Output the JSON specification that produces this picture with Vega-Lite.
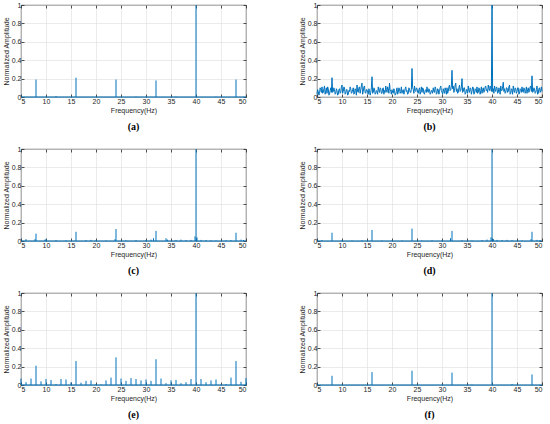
{
"$schema": "https://vega.github.io/schema/vega-lite/v6.json",
"padding": {"left": 1, "top": 0, "right": 4, "bottom": 2},
"background": "white",
"config": {
 "view": {"stroke": "#262626", "strokeWidth": 0.8},
 "axis": {"domain": false, "labelFont": "Liberation Sans", "labelFontSize": 7, "labelColor": "#262626", "titleFont": "Liberation Sans", "titleFontSize": 7, "titleFontWeight": "normal", "titleColor": "#262626", "tickColor": "#262626", "gridColor": "#dedede", "gridWidth": 0.6, "tickWidth": 0.8},
 "title": {"font": "Liberation Serif", "fontSize": 10, "fontWeight": "bold", "color": "#000", "orient": "bottom", "offset": 9}
},
"datasets": {
 "s": [
  {"p":"a","f":8,"a":0.19},{"p":"a","f":12,"a":0.01},{"p":"a","f":16,"a":0.21},{"p":"a","f":24,"a":0.19},{"p":"a","f":28,"a":0.005},{"p":"a","f":32,"a":0.18},{"p":"a","f":36,"a":0.005},{"p":"a","f":40,"a":1},{"p":"a","f":44,"a":0.005},{"p":"a","f":48,"a":0.19},
  {"p":"c","f":6,"a":0.02},{"p":"c","f":7.8,"a":0.02},{"p":"c","f":8,"a":0.08},{"p":"c","f":9.8,"a":0.015},{"p":"c","f":10,"a":0.02},{"p":"c","f":12,"a":0.01},{"p":"c","f":14,"a":0.008},{"p":"c","f":16,"a":0.1},{"p":"c","f":18,"a":0.01},{"p":"c","f":19,"a":0.012},{"p":"c","f":20,"a":0.008},{"p":"c","f":22,"a":0.006},{"p":"c","f":23.8,"a":0.02},{"p":"c","f":24,"a":0.13},{"p":"c","f":26,"a":0.008},{"p":"c","f":28,"a":0.01},{"p":"c","f":30,"a":0.01},{"p":"c","f":31,"a":0.015},{"p":"c","f":31.5,"a":0.03},{"p":"c","f":32,"a":0.11},{"p":"c","f":34,"a":0.03},{"p":"c","f":34.3,"a":0.015},{"p":"c","f":36,"a":0.01},{"p":"c","f":37,"a":0.015},{"p":"c","f":38,"a":0.01},{"p":"c","f":39,"a":0.012},{"p":"c","f":39.8,"a":0.05},{"p":"c","f":40,"a":1},{"p":"c","f":40.2,"a":0.04},{"p":"c","f":41,"a":0.012},{"p":"c","f":42,"a":0.01},{"p":"c","f":43,"a":0.008},{"p":"c","f":44,"a":0.006},{"p":"c","f":46,"a":0.008},{"p":"c","f":47,"a":0.01},{"p":"c","f":48,"a":0.09},{"p":"c","f":49,"a":0.015},{"p":"c","f":49.5,"a":0.01},
  {"p":"d","f":6,"a":0.01},{"p":"d","f":8,"a":0.09},{"p":"d","f":10,"a":0.008},{"p":"d","f":12,"a":0.006},{"p":"d","f":14,"a":0.008},{"p":"d","f":16,"a":0.12},{"p":"d","f":18,"a":0.006},{"p":"d","f":20,"a":0.005},{"p":"d","f":22,"a":0.006},{"p":"d","f":24,"a":0.135},{"p":"d","f":26,"a":0.006},{"p":"d","f":28,"a":0.008},{"p":"d","f":30,"a":0.006},{"p":"d","f":31.7,"a":0.03},{"p":"d","f":32,"a":0.11},{"p":"d","f":34,"a":0.008},{"p":"d","f":36,"a":0.006},{"p":"d","f":38,"a":0.01},{"p":"d","f":39,"a":0.015},{"p":"d","f":39.8,"a":0.04},{"p":"d","f":40,"a":1},{"p":"d","f":40.3,"a":0.02},{"p":"d","f":41,"a":0.012},{"p":"d","f":42,"a":0.01},{"p":"d","f":43,"a":0.012},{"p":"d","f":44,"a":0.008},{"p":"d","f":46,"a":0.006},{"p":"d","f":47.8,"a":0.02},{"p":"d","f":48,"a":0.1},{"p":"d","f":49,"a":0.012},{"p":"d","f":49.6,"a":0.008},
  {"p":"e","f":5,"a":0.07},{"p":"e","f":6,"a":0.03},{"p":"e","f":7,"a":0.07},{"p":"e","f":8,"a":0.21},{"p":"e","f":9,"a":0.04},{"p":"e","f":10,"a":0.065},{"p":"e","f":11,"a":0.055},{"p":"e","f":12,"a":0.01},{"p":"e","f":13,"a":0.065},{"p":"e","f":14,"a":0.06},{"p":"e","f":15,"a":0.03},{"p":"e","f":16,"a":0.26},{"p":"e","f":17,"a":0.025},{"p":"e","f":18,"a":0.045},{"p":"e","f":19,"a":0.05},{"p":"e","f":20,"a":0.01},{"p":"e","f":21,"a":0.005},{"p":"e","f":22,"a":0.05},{"p":"e","f":23,"a":0.08},{"p":"e","f":24,"a":0.3},{"p":"e","f":25,"a":0.07},{"p":"e","f":26,"a":0.045},{"p":"e","f":27,"a":0.075},{"p":"e","f":28,"a":0.065},{"p":"e","f":29,"a":0.05},{"p":"e","f":30,"a":0.06},{"p":"e","f":31,"a":0.045},{"p":"e","f":32,"a":0.28},{"p":"e","f":33,"a":0.07},{"p":"e","f":34,"a":0.02},{"p":"e","f":35,"a":0.05},{"p":"e","f":36,"a":0.055},{"p":"e","f":37,"a":0.02},{"p":"e","f":38,"a":0.03},{"p":"e","f":39,"a":0.065},{"p":"e","f":40,"a":1},{"p":"e","f":41,"a":0.065},{"p":"e","f":42,"a":0.03},{"p":"e","f":43,"a":0.05},{"p":"e","f":44,"a":0.06},{"p":"e","f":45,"a":0.005},{"p":"e","f":46,"a":0.01},{"p":"e","f":47,"a":0.08},{"p":"e","f":48,"a":0.26},{"p":"e","f":49,"a":0.035},{"p":"e","f":50,"a":0.075},
  {"p":"f","f":8,"a":0.1},{"p":"f","f":16,"a":0.14},{"p":"f","f":24,"a":0.155},{"p":"f","f":32,"a":0.135},{"p":"f","f":36,"a":0.005},{"p":"f","f":40,"a":1},{"p":"f","f":44,"a":0.01},{"p":"f","f":48,"a":0.115}
 ],
 "n": [
  {"f":5,"a":0.03},{"f":5.125,"a":0.08},{"f":5.25,"a":0.06},{"f":5.375,"a":0.02},{"f":5.5,"a":0.04},{"f":5.625,"a":0.1},{"f":5.75,"a":0.08},{"f":5.875,"a":0.05},
  {"f":6,"a":0.11},{"f":6.125,"a":0.04},{"f":6.25,"a":0.05},{"f":6.375,"a":0.09},{"f":6.5,"a":0.12},{"f":6.625,"a":0.03},{"f":6.75,"a":0.07},{"f":6.875,"a":0.1},
  {"f":7,"a":0.04},{"f":7.125,"a":0.11},{"f":7.25,"a":0.09},{"f":7.375,"a":0.02},{"f":7.5,"a":0.03},{"f":7.625,"a":0.07},{"f":7.75,"a":0.1},{"f":7.875,"a":0.05},
  {"f":8,"a":0.21},{"f":8.125,"a":0.05},{"f":8.25,"a":0.06},{"f":8.375,"a":0.1},{"f":8.5,"a":0.08},{"f":8.625,"a":0.03},{"f":8.75,"a":0.04},{"f":8.875,"a":0.09},
  {"f":9,"a":0.07},{"f":9.125,"a":0.02},{"f":9.25,"a":0.03},{"f":9.375,"a":0.08},{"f":9.5,"a":0.09},{"f":9.625,"a":0.04},{"f":9.75,"a":0.05},{"f":9.875,"a":0.11},
  {"f":10,"a":0.13},{"f":10.125,"a":0.04},{"f":10.25,"a":0.06},{"f":10.375,"a":0.11},{"f":10.5,"a":0.1},{"f":10.625,"a":0.03},{"f":10.75,"a":0.04},{"f":10.875,"a":0.08},
  {"f":11,"a":0.08},{"f":11.125,"a":0.02},{"f":11.25,"a":0.03},{"f":11.375,"a":0.07},{"f":11.5,"a":0.06},{"f":11.625,"a":0.11},{"f":11.75,"a":0.09},{"f":11.875,"a":0.04},
  {"f":12,"a":0.05},{"f":12.125,"a":0.08},{"f":12.25,"a":0.1},{"f":12.375,"a":0.03},{"f":12.5,"a":0.04},{"f":12.625,"a":0.09},{"f":12.75,"a":0.07},{"f":12.875,"a":0.02},
  {"f":13,"a":0.13},{"f":13.125,"a":0.06},{"f":13.25,"a":0.05},{"f":13.375,"a":0.1},{"f":13.5,"a":0.11},{"f":13.625,"a":0.04},{"f":13.75,"a":0.08},{"f":13.875,"a":0.12},
  {"f":14,"a":0.15},{"f":14.125,"a":0.03},{"f":14.25,"a":0.06},{"f":14.375,"a":0.11},{"f":14.5,"a":0.12},{"f":14.625,"a":0.05},{"f":14.75,"a":0.04},{"f":14.875,"a":0.08},
  {"f":15,"a":0.08},{"f":15.125,"a":0.05},{"f":15.25,"a":0.03},{"f":15.375,"a":0.09},{"f":15.5,"a":0.07},{"f":15.625,"a":0.02},{"f":15.75,"a":0.05},{"f":15.875,"a":0.1},
  {"f":16,"a":0.22},{"f":16.125,"a":0.04},{"f":16.25,"a":0.05},{"f":16.375,"a":0.1},{"f":16.5,"a":0.09},{"f":16.625,"a":0.03},{"f":16.75,"a":0.04},{"f":16.875,"a":0.07},
  {"f":17,"a":0.06},{"f":17.125,"a":0.03},{"f":17.25,"a":0.11},{"f":17.375,"a":0.07},{"f":17.5,"a":0.05},{"f":17.625,"a":0.1},{"f":17.75,"a":0.09},{"f":17.875,"a":0.04},
  {"f":18,"a":0.04},{"f":18.125,"a":0.09},{"f":18.25,"a":0.1},{"f":18.375,"a":0.03},{"f":18.5,"a":0.07},{"f":18.625,"a":0.05},{"f":18.75,"a":0.12},{"f":18.875,"a":0.08},
  {"f":19,"a":0.05},{"f":19.125,"a":0.11},{"f":19.25,"a":0.09},{"f":19.375,"a":0.04},{"f":19.5,"a":0.15},{"f":19.625,"a":0.08},{"f":19.75,"a":0.06},{"f":19.875,"a":0.03},
  {"f":20,"a":0.08},{"f":20.125,"a":0.05},{"f":20.25,"a":0.04},{"f":20.375,"a":0.09},{"f":20.5,"a":0.07},{"f":20.625,"a":0.02},{"f":20.75,"a":0.03},{"f":20.875,"a":0.06},
  {"f":21,"a":0.1},{"f":21.125,"a":0.03},{"f":21.25,"a":0.05},{"f":21.375,"a":0.1},{"f":21.5,"a":0.09},{"f":21.625,"a":0.04},{"f":21.75,"a":0.06},{"f":21.875,"a":0.11},
  {"f":22,"a":0.04},{"f":22.125,"a":0.07},{"f":22.25,"a":0.08},{"f":22.375,"a":0.03},{"f":22.5,"a":0.05},{"f":22.625,"a":0.09},{"f":22.75,"a":0.11},{"f":22.875,"a":0.06},
  {"f":23,"a":0.07},{"f":23.125,"a":0.03},{"f":23.25,"a":0.04},{"f":23.375,"a":0.1},{"f":23.5,"a":0.09},{"f":23.625,"a":0.05},{"f":23.75,"a":0.05},{"f":23.875,"a":0.08},
  {"f":24,"a":0.31},{"f":24.125,"a":0.1},{"f":24.25,"a":0.08},{"f":24.375,"a":0.04},{"f":24.5,"a":0.12},{"f":24.625,"a":0.07},{"f":24.75,"a":0.06},{"f":24.875,"a":0.1},
  {"f":25,"a":0.09},{"f":25.125,"a":0.05},{"f":25.25,"a":0.04},{"f":25.375,"a":0.08},{"f":25.5,"a":0.1},{"f":25.625,"a":0.03},{"f":25.75,"a":0.06},{"f":25.875,"a":0.11},
  {"f":26,"a":0.05},{"f":26.125,"a":0.1},{"f":26.25,"a":0.09},{"f":26.375,"a":0.04},{"f":26.5,"a":0.03},{"f":26.625,"a":0.07},{"f":26.75,"a":0.08},{"f":26.875,"a":0.05},
  {"f":27,"a":0.11},{"f":27.125,"a":0.06},{"f":27.25,"a":0.05},{"f":27.375,"a":0.09},{"f":27.5,"a":0.08},{"f":27.625,"a":0.03},{"f":27.75,"a":0.04},{"f":27.875,"a":0.07},
  {"f":28,"a":0.07},{"f":28.125,"a":0.04},{"f":28.25,"a":0.1},{"f":28.375,"a":0.06},{"f":28.5,"a":0.05},{"f":28.625,"a":0.11},{"f":28.75,"a":0.09},{"f":28.875,"a":0.03},
  {"f":29,"a":0.04},{"f":29.125,"a":0.09},{"f":29.25,"a":0.08},{"f":29.375,"a":0.03},{"f":29.5,"a":0.06},{"f":29.625,"a":0.1},{"f":29.75,"a":0.12},{"f":29.875,"a":0.07},
  {"f":30,"a":0.05},{"f":30.125,"a":0.03},{"f":30.25,"a":0.09},{"f":30.375,"a":0.06},{"f":30.5,"a":0.04},{"f":30.625,"a":0.1},{"f":30.75,"a":0.07},{"f":30.875,"a":0.03},
  {"f":31,"a":0.1},{"f":31.125,"a":0.04},{"f":31.25,"a":0.06},{"f":31.375,"a":0.11},{"f":31.5,"a":0.13},{"f":31.625,"a":0.07},{"f":31.75,"a":0.08},{"f":31.875,"a":0.12},
  {"f":32,"a":0.29},{"f":32.125,"a":0.09},{"f":32.25,"a":0.12},{"f":32.375,"a":0.05},{"f":32.5,"a":0.07},{"f":32.625,"a":0.13},{"f":32.75,"a":0.15},{"f":32.875,"a":0.06},
  {"f":33,"a":0.09},{"f":33.125,"a":0.04},{"f":33.25,"a":0.05},{"f":33.375,"a":0.1},{"f":33.5,"a":0.13},{"f":33.625,"a":0.06},{"f":33.75,"a":0.07},{"f":33.875,"a":0.11},
  {"f":34,"a":0.2},{"f":34.125,"a":0.05},{"f":34.25,"a":0.06},{"f":34.375,"a":0.1},{"f":34.5,"a":0.1},{"f":34.625,"a":0.03},{"f":34.75,"a":0.04},{"f":34.875,"a":0.08},
  {"f":35,"a":0.08},{"f":35.125,"a":0.04},{"f":35.25,"a":0.12},{"f":35.375,"a":0.07},{"f":35.5,"a":0.05},{"f":35.625,"a":0.1},{"f":35.75,"a":0.09},{"f":35.875,"a":0.03},
  {"f":36,"a":0.06},{"f":36.125,"a":0.11},{"f":36.25,"a":0.1},{"f":36.375,"a":0.03},{"f":36.5,"a":0.04},{"f":36.625,"a":0.09},{"f":36.75,"a":0.08},{"f":36.875,"a":0.05},
  {"f":37,"a":0.11},{"f":37.125,"a":0.04},{"f":37.25,"a":0.05},{"f":37.375,"a":0.1},{"f":37.5,"a":0.09},{"f":37.625,"a":0.03},{"f":37.75,"a":0.07},{"f":37.875,"a":0.11},
  {"f":38,"a":0.04},{"f":38.125,"a":0.08},{"f":38.25,"a":0.1},{"f":38.375,"a":0.05},{"f":38.5,"a":0.06},{"f":38.625,"a":0.11},{"f":38.75,"a":0.12},{"f":38.875,"a":0.07},
  {"f":39,"a":0.08},{"f":39.125,"a":0.05},{"f":39.25,"a":0.13},{"f":39.375,"a":0.09},{"f":39.5,"a":0.07},{"f":39.625,"a":0.12},{"f":39.75,"a":0.1},{"f":39.875,"a":0.06},
  {"f":40,"a":1},{"f":40.125,"a":0.06},{"f":40.25,"a":0.09},{"f":40.375,"a":0.04},{"f":40.5,"a":0.12},{"f":40.625,"a":0.08},{"f":40.75,"a":0.06},{"f":40.875,"a":0.11},
  {"f":41,"a":0.1},{"f":41.125,"a":0.04},{"f":41.25,"a":0.05},{"f":41.375,"a":0.1},{"f":41.5,"a":0.08},{"f":41.625,"a":0.03},{"f":41.75,"a":0.12},{"f":41.875,"a":0.07},
  {"f":42,"a":0.07},{"f":42.125,"a":0.11},{"f":42.25,"a":0.16},{"f":42.375,"a":0.06},{"f":42.5,"a":0.09},{"f":42.625,"a":0.04},{"f":42.75,"a":0.05},{"f":42.875,"a":0.1},
  {"f":43,"a":0.1},{"f":43.125,"a":0.05},{"f":43.25,"a":0.06},{"f":43.375,"a":0.11},{"f":43.5,"a":0.13},{"f":43.625,"a":0.03},{"f":43.75,"a":0.04},{"f":43.875,"a":0.09},
  {"f":44,"a":0.08},{"f":44.125,"a":0.03},{"f":44.25,"a":0.12},{"f":44.375,"a":0.07},{"f":44.5,"a":0.05},{"f":44.625,"a":0.1},{"f":44.75,"a":0.09},{"f":44.875,"a":0.04},
  {"f":45,"a":0.06},{"f":45.125,"a":0.1},{"f":45.25,"a":0.1},{"f":45.375,"a":0.03},{"f":45.5,"a":0.04},{"f":45.625,"a":0.09},{"f":45.75,"a":0.08},{"f":45.875,"a":0.05},
  {"f":46,"a":0.11},{"f":46.125,"a":0.06},{"f":46.25,"a":0.05},{"f":46.375,"a":0.1},{"f":46.5,"a":0.09},{"f":46.625,"a":0.04},{"f":46.75,"a":0.06},{"f":46.875,"a":0.11},
  {"f":47,"a":0.04},{"f":47.125,"a":0.08},{"f":47.25,"a":0.1},{"f":47.375,"a":0.05},{"f":47.5,"a":0.07},{"f":47.625,"a":0.11},{"f":47.75,"a":0.12},{"f":47.875,"a":0.06},
  {"f":48,"a":0.23},{"f":48.125,"a":0.05},{"f":48.25,"a":0.06},{"f":48.375,"a":0.1},{"f":48.5,"a":0.09},{"f":48.625,"a":0.04},{"f":48.75,"a":0.05},{"f":48.875,"a":0.08},
  {"f":49,"a":0.12},{"f":49.125,"a":0.03},{"f":49.25,"a":0.04},{"f":49.375,"a":0.09},{"f":49.5,"a":0.1},{"f":49.625,"a":0.05},{"f":49.75,"a":0.07},{"f":49.875,"a":0.11},
  {"f":50,"a":0.06}
 ]
},
"columns": 2,
"spacing": {"row": 11, "column": 50},
"concat": [
 {"width": 225, "height": 92, "title": "(a)", "resolve": {"axis": {"x": "independent", "y": "independent"}},
  "layer": [
   {"data": {"name": "s"}, "transform": [{"filter": "datum.p === 'a'"}], "mark": {"type": "rule", "color": "#0072BD", "strokeWidth": 1},
    "encoding": {"x": {"field": "f", "type": "quantitative", "scale": {"domain": [5, 50]}, "axis": {"values": [5,10,15,20,25,30,35,40,45,50], "format": "d", "title": "Frequency(Hz)", "tickSize": -3, "labelPadding": 3, "titlePadding": 2}},
     "y": {"field": "a", "type": "quantitative", "scale": {"domain": [0, 1]}, "axis": {"values": [0,0.2,0.4,0.6,0.8,1], "format": "~g", "title": "Normalized Amplitude", "tickSize": -3, "labelPadding": 3, "titlePadding": 2}},
     "y2": {"datum": 0}}},
   {"data": {"values": [{}]}, "mark": {"type": "rule", "color": "#0072BD", "strokeWidth": 1},
    "encoding": {"x": {"datum": 5, "type": "quantitative", "scale": {"domain": [5, 50]}, "axis": {"orient": "top", "values": [5,10,15,20,25,30,35,40,45,50], "labels": false, "title": null, "grid": false, "tickSize": -3}},
     "x2": {"datum": 50},
     "y": {"datum": 0, "type": "quantitative", "scale": {"domain": [0, 1]}, "axis": {"orient": "right", "values": [0,0.2,0.4,0.6,0.8,1], "labels": false, "title": null, "grid": false, "tickSize": -3}}}}
  ]},
 {"width": 225, "height": 92, "title": "(b)", "resolve": {"axis": {"x": "independent", "y": "independent"}},
  "layer": [
   {"data": {"name": "n"}, "mark": {"type": "line", "color": "#0072BD", "strokeWidth": 1},
    "encoding": {"x": {"field": "f", "type": "quantitative", "scale": {"domain": [5, 50]}, "axis": {"values": [5,10,15,20,25,30,35,40,45,50], "format": "d", "title": "Frequency(Hz)", "tickSize": -3, "labelPadding": 3, "titlePadding": 2}},
     "y": {"field": "a", "type": "quantitative", "scale": {"domain": [0, 1]}, "axis": {"values": [0,0.2,0.4,0.6,0.8,1], "format": "~g", "title": "Normalized Amplitude", "tickSize": -3, "labelPadding": 3, "titlePadding": 2}}}},
   {"data": {"values": [{}]}, "mark": {"type": "rule", "color": "#0072BD", "strokeWidth": 1, "opacity": 0},
    "encoding": {"x": {"datum": 5, "type": "quantitative", "scale": {"domain": [5, 50]}, "axis": {"orient": "top", "values": [5,10,15,20,25,30,35,40,45,50], "labels": false, "title": null, "grid": false, "tickSize": -3}},
     "x2": {"datum": 50},
     "y": {"datum": 0, "type": "quantitative", "scale": {"domain": [0, 1]}, "axis": {"orient": "right", "values": [0,0.2,0.4,0.6,0.8,1], "labels": false, "title": null, "grid": false, "tickSize": -3}}}}
  ]},
 {"width": 225, "height": 92, "title": "(c)", "resolve": {"axis": {"x": "independent", "y": "independent"}},
  "layer": [
   {"data": {"name": "s"}, "transform": [{"filter": "datum.p === 'c'"}], "mark": {"type": "rule", "color": "#0072BD", "strokeWidth": 1},
    "encoding": {"x": {"field": "f", "type": "quantitative", "scale": {"domain": [5, 50]}, "axis": {"values": [5,10,15,20,25,30,35,40,45,50], "format": "d", "title": "Frequency(Hz)", "tickSize": -3, "labelPadding": 3, "titlePadding": 2}},
     "y": {"field": "a", "type": "quantitative", "scale": {"domain": [0, 1]}, "axis": {"values": [0,0.2,0.4,0.6,0.8,1], "format": "~g", "title": "Normalized Amplitude", "tickSize": -3, "labelPadding": 3, "titlePadding": 2}},
     "y2": {"datum": 0}}},
   {"data": {"values": [{}]}, "mark": {"type": "rule", "color": "#0072BD", "strokeWidth": 1},
    "encoding": {"x": {"datum": 5, "type": "quantitative", "scale": {"domain": [5, 50]}, "axis": {"orient": "top", "values": [5,10,15,20,25,30,35,40,45,50], "labels": false, "title": null, "grid": false, "tickSize": -3}},
     "x2": {"datum": 50},
     "y": {"datum": 0, "type": "quantitative", "scale": {"domain": [0, 1]}, "axis": {"orient": "right", "values": [0,0.2,0.4,0.6,0.8,1], "labels": false, "title": null, "grid": false, "tickSize": -3}}}}
  ]},
 {"width": 225, "height": 92, "title": "(d)", "resolve": {"axis": {"x": "independent", "y": "independent"}},
  "layer": [
   {"data": {"name": "s"}, "transform": [{"filter": "datum.p === 'd'"}], "mark": {"type": "rule", "color": "#0072BD", "strokeWidth": 1},
    "encoding": {"x": {"field": "f", "type": "quantitative", "scale": {"domain": [5, 50]}, "axis": {"values": [5,10,15,20,25,30,35,40,45,50], "format": "d", "title": "Frequency(Hz)", "tickSize": -3, "labelPadding": 3, "titlePadding": 2}},
     "y": {"field": "a", "type": "quantitative", "scale": {"domain": [0, 1]}, "axis": {"values": [0,0.2,0.4,0.6,0.8,1], "format": "~g", "title": "Normalized Amplitude", "tickSize": -3, "labelPadding": 3, "titlePadding": 2}},
     "y2": {"datum": 0}}},
   {"data": {"values": [{}]}, "mark": {"type": "rule", "color": "#0072BD", "strokeWidth": 1},
    "encoding": {"x": {"datum": 5, "type": "quantitative", "scale": {"domain": [5, 50]}, "axis": {"orient": "top", "values": [5,10,15,20,25,30,35,40,45,50], "labels": false, "title": null, "grid": false, "tickSize": -3}},
     "x2": {"datum": 50},
     "y": {"datum": 0, "type": "quantitative", "scale": {"domain": [0, 1]}, "axis": {"orient": "right", "values": [0,0.2,0.4,0.6,0.8,1], "labels": false, "title": null, "grid": false, "tickSize": -3}}}}
  ]},
 {"width": 225, "height": 92, "title": "(e)", "resolve": {"axis": {"x": "independent", "y": "independent"}},
  "layer": [
   {"data": {"name": "s"}, "transform": [{"filter": "datum.p === 'e'"}], "mark": {"type": "rule", "color": "#0072BD", "strokeWidth": 1},
    "encoding": {"x": {"field": "f", "type": "quantitative", "scale": {"domain": [5, 50]}, "axis": {"values": [5,10,15,20,25,30,35,40,45,50], "format": "d", "title": "Frequency(Hz)", "tickSize": -3, "labelPadding": 3, "titlePadding": 2}},
     "y": {"field": "a", "type": "quantitative", "scale": {"domain": [0, 1]}, "axis": {"values": [0,0.2,0.4,0.6,0.8,1], "format": "~g", "title": "Normalized Amplitude", "tickSize": -3, "labelPadding": 3, "titlePadding": 2}},
     "y2": {"datum": 0}}},
   {"data": {"values": [{}]}, "mark": {"type": "rule", "color": "#0072BD", "strokeWidth": 1},
    "encoding": {"x": {"datum": 5, "type": "quantitative", "scale": {"domain": [5, 50]}, "axis": {"orient": "top", "values": [5,10,15,20,25,30,35,40,45,50], "labels": false, "title": null, "grid": false, "tickSize": -3}},
     "x2": {"datum": 50},
     "y": {"datum": 0, "type": "quantitative", "scale": {"domain": [0, 1]}, "axis": {"orient": "right", "values": [0,0.2,0.4,0.6,0.8,1], "labels": false, "title": null, "grid": false, "tickSize": -3}}}}
  ]},
 {"width": 225, "height": 92, "title": "(f)", "resolve": {"axis": {"x": "independent", "y": "independent"}},
  "layer": [
   {"data": {"name": "s"}, "transform": [{"filter": "datum.p === 'f'"}], "mark": {"type": "rule", "color": "#0072BD", "strokeWidth": 1},
    "encoding": {"x": {"field": "f", "type": "quantitative", "scale": {"domain": [5, 50]}, "axis": {"values": [5,10,15,20,25,30,35,40,45,50], "format": "d", "title": "Frequency(Hz)", "tickSize": -3, "labelPadding": 3, "titlePadding": 2}},
     "y": {"field": "a", "type": "quantitative", "scale": {"domain": [0, 1]}, "axis": {"values": [0,0.2,0.4,0.6,0.8,1], "format": "~g", "title": "Normalized Amplitude", "tickSize": -3, "labelPadding": 3, "titlePadding": 2}},
     "y2": {"datum": 0}}},
   {"data": {"values": [{}]}, "mark": {"type": "rule", "color": "#0072BD", "strokeWidth": 1},
    "encoding": {"x": {"datum": 5, "type": "quantitative", "scale": {"domain": [5, 50]}, "axis": {"orient": "top", "values": [5,10,15,20,25,30,35,40,45,50], "labels": false, "title": null, "grid": false, "tickSize": -3}},
     "x2": {"datum": 50},
     "y": {"datum": 0, "type": "quantitative", "scale": {"domain": [0, 1]}, "axis": {"orient": "right", "values": [0,0.2,0.4,0.6,0.8,1], "labels": false, "title": null, "grid": false, "tickSize": -3}}}}
  ]}
]
}
